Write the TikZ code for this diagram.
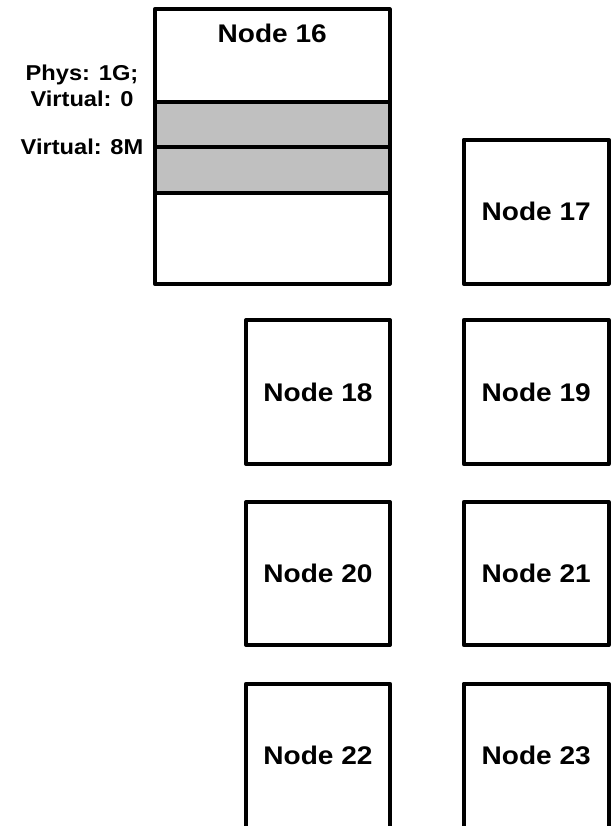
\documentclass[tikz,border=0pt]{standalone}
\usepackage{fontspec}
\setmainfont{Liberation Sans}[FakeStretch=1.1]
\definecolor{bandgray}{RGB}{192,192,192}
\begin{document}
\begin{tikzpicture}[x=1pt,y=-1pt,
  box/.style={draw=black, line width=4pt, line join=round, rectangle, inner sep=0pt, outer sep=0pt,
    minimum width=145pt, minimum height=144pt, font=\fontsize{25.5}{28}\selectfont\bfseries},
  lab/.style={font=\fontsize{21.5}{26.5}\selectfont\bfseries, align=center, inner sep=0pt},
  title/.style={font=\fontsize{25.5}{28}\selectfont\bfseries, inner sep=0pt}]
\useasboundingbox (0,0) rectangle (614,826);
\fill[white] (0,0) rectangle (614,826);
% Node 16 with memory bands
\fill[bandgray] (154.7,102) rectangle (389.7,192.7);
\node[box, minimum width=235pt, minimum height=274.4pt] (n16) at (272.2,146.5) {};
\draw[line width=4pt] (n16.west |- 0,102) coordinate (b1l) -- (n16.east |- 0,102) coordinate (b1r);
\draw[line width=4pt] (n16.west |- 0,147) coordinate (b2l) -- (n16.east |- 0,147) coordinate (b2r);
\draw[line width=4pt] (n16.west |- 0,192.7) coordinate (b3l) -- (n16.east |- 0,192.7) coordinate (b3r);
\node[title] (t16) at (272.2,33) {Node 16};
\node[lab] (l1) at (82,86) {Phys: 1G;\\Virtual: 0};
\node[lab] (l2) at (82,147) {Virtual: 8M};
% other nodes
\node[box] (n17) at (536.2,211.7) {Node 17};
\node[box, minimum width=144pt] (n18) at (318,392) {Node 18};
\node[box] (n19) at (536.2,392) {Node 19};
\node[box, minimum width=144pt, minimum height=143pt] (n20) at (318,573.5) {Node 20};
\node[box, minimum height=143pt] (n21) at (536.2,573.5) {Node 21};
\node[box, minimum width=144pt] (n22) at (318,755.7) {Node 22};
\node[box] (n23) at (536.2,755.7) {Node 23};
\end{tikzpicture}
\end{document}
